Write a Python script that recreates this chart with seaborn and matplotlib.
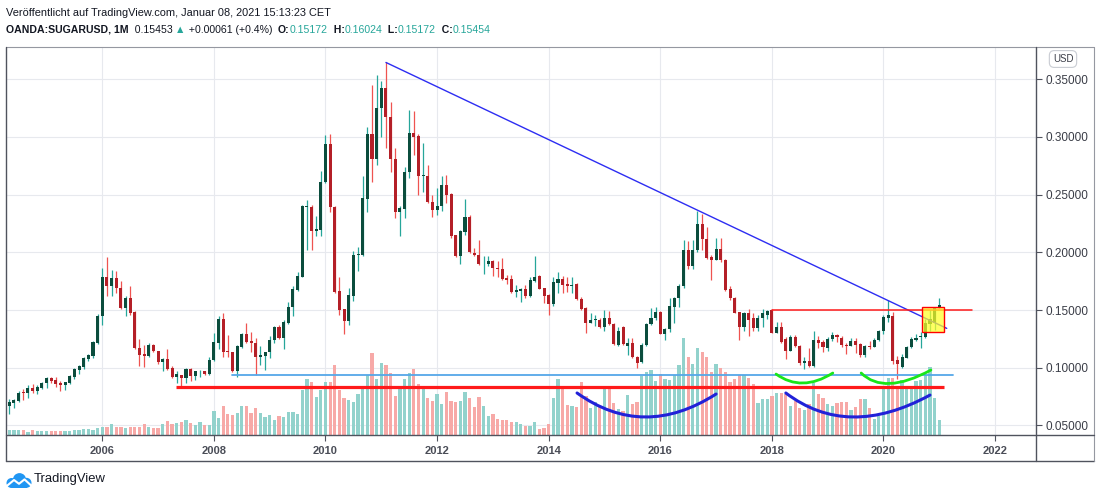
import numpy as np
import pandas as pd
import matplotlib
matplotlib.use("Agg")
import matplotlib.pyplot as plt
import seaborn as sns
from matplotlib.path import Path
from matplotlib.patches import PathPatch, Rectangle, Circle
from matplotlib.lines import Line2D

# ---------------- data (monthly OANDA:SUGARUSD, values in US cents) ----------------
months = pd.date_range("2004-05-01", "2021-01-01", freq="MS")

open_c = [
    6.70, 6.93, 7.10, 7.90, 7.84, 8.22, 7.99, 8.28,
    8.71, 9.11, 8.91, 8.71, 8.51, 8.71, 9.22, 9.80, 10.05, 10.72, 11.00, 12.13,
    14.45, 17.87, 17.04, 17.79, 16.90, 15.17, 16.03, 14.80, 11.72, 11.15, 11.01, 12.01,
    11.49, 10.49, 10.72, 10.00, 9.20, 9.35, 9.12, 9.93, 9.26, 9.70, 9.70, 9.43,
    10.65, 12.16, 14.22, 11.46, 11.32, 9.72, 11.81, 12.91, 12.33, 12.16, 10.94, 11.00,
    11.32, 12.39, 13.49, 12.54, 13.90, 15.23, 16.74, 17.90, 23.93, 23.93, 21.81, 21.96,
    26.10, 29.35, 23.93, 16.67, 15.10, 14.08, 16.18, 19.79, 19.79, 24.63, 30.26, 28.09,
    32.48, 34.21, 31.76, 28.09, 23.48, 23.77, 26.94, 30.32, 30.09, 26.57, 26.65, 24.40,
    23.68, 23.97, 25.85, 25.04, 21.46, 19.64, 21.75, 23.10, 19.93, 19.79, 18.98, 18.98,
    19.21, 18.63, 18.58, 17.77, 17.67, 16.58, 16.67, 16.81, 16.21, 17.53, 17.93, 16.87,
    16.29, 15.49, 17.36, 17.67, 17.24, 17.10, 17.24, 15.92, 15.20, 13.91, 14.14, 14.14,
    13.55, 14.28, 13.76, 12.00, 13.55, 11.88, 12.10, 10.97, 10.52, 12.00, 13.76, 14.30,
    14.85, 12.96, 13.39, 15.29, 16.00, 17.07, 20.17, 18.79, 20.17, 22.41, 21.18, 19.60,
    19.37, 20.32, 19.37, 16.78, 16.06, 14.80, 13.56, 14.71, 14.28, 13.42, 14.28, 14.57,
    15.00, 13.05, 13.56, 12.47, 11.49, 12.70, 11.90, 10.45, 10.58, 10.17, 12.40, 12.25,
    11.68, 12.46, 12.83, 12.60, 12.00, 11.91, 12.34, 12.06, 11.06, 11.91, 11.77, 12.43,
    13.14, 14.29, 14.49, 10.71, 10.09, 10.86, 11.80, 12.43, 12.66, 12.66, 13.80, 13.86,
    15.172,
]
high_c = [
    7.33, 7.33, 7.99, 8.13, 8.51, 8.56, 8.51, 8.76,
    9.20, 9.20, 9.20, 8.85, 8.76, 9.40, 10.00, 10.20, 10.95, 11.21, 12.33, 14.68,
    18.68, 19.63, 18.48, 18.39, 17.53, 16.18, 17.04, 14.89, 12.53, 12.00, 12.16, 12.07,
    11.49, 10.86, 11.58, 10.14, 9.69, 9.35, 10.01, 10.01, 9.72, 9.84, 9.72, 10.94,
    12.97, 14.48, 14.71, 12.83, 11.38, 11.96, 12.97, 13.90, 13.12, 12.54, 11.87, 11.38,
    12.74, 13.61, 13.70, 14.13, 15.72, 17.12, 18.28, 24.13, 24.51, 24.13, 23.12, 27.03,
    30.13, 30.22, 23.99, 17.83, 15.10, 16.90, 20.08, 20.45, 26.57, 30.89, 34.50, 35.36,
    34.84, 36.52, 33.06, 29.02, 23.97, 27.43, 32.33, 32.25, 30.23, 29.45, 27.58, 24.98,
    25.56, 26.57, 26.71, 25.12, 21.52, 21.95, 24.63, 23.25, 20.36, 21.09, 19.64, 19.64,
    19.36, 19.27, 19.50, 18.06, 18.02, 17.21, 16.95, 17.16, 17.87, 19.66, 18.02, 16.95,
    16.35, 17.82, 18.30, 17.96, 17.82, 17.82, 17.30, 16.15, 15.29, 14.71, 14.57, 14.28,
    15.00, 14.90, 13.85, 13.55, 13.64, 12.55, 12.55, 11.00, 12.10, 13.85, 15.15, 15.23,
    14.91, 13.48, 16.00, 16.15, 17.24, 21.03, 20.95, 21.09, 23.62, 23.33, 22.18, 19.74,
    21.26, 21.26, 19.45, 17.07, 16.15, 14.86, 14.86, 15.06, 14.71, 14.57, 15.06, 15.00,
    15.06, 14.00, 14.00, 12.70, 12.84, 12.84, 11.98, 10.95, 11.68, 13.20, 12.75, 12.40,
    12.63, 13.12, 12.90, 12.75, 12.10, 12.60, 12.60, 12.10, 12.00, 12.30, 12.60, 13.30,
    14.60, 15.86, 14.86, 11.00, 11.20, 11.90, 12.70, 12.90, 13.10, 14.20, 15.00, 15.30,
    16.024,
]
low_c = [
    6.03, 6.55, 7.04, 7.18, 7.41, 7.84, 7.70, 8.13,
    8.28, 8.71, 8.33, 7.99, 8.07, 8.56, 9.05, 9.42, 9.91, 10.60, 10.86, 12.07,
    13.74, 16.18, 16.18, 16.47, 15.09, 14.45, 14.60, 11.58, 10.14, 10.06, 10.92, 11.35,
    10.29, 9.71, 9.80, 9.11, 8.65, 8.33, 8.71, 8.86, 8.97, 9.20, 9.35, 9.35,
    10.59, 11.58, 10.94, 10.94, 9.64, 9.20, 11.75, 12.10, 11.38, 9.35, 10.22, 9.84,
    10.88, 12.16, 12.45, 11.58, 13.78, 14.51, 16.68, 17.84, 20.16, 20.22, 21.38, 21.43,
    26.01, 23.49, 16.45, 14.60, 12.92, 13.73, 15.81, 18.35, 19.64, 23.48, 26.08, 27.58,
    30.03, 29.08, 26.94, 22.96, 21.37, 22.96, 26.42, 28.44, 24.98, 25.21, 24.26, 23.02,
    23.25, 23.54, 24.26, 21.23, 19.59, 18.98, 21.52, 19.93, 19.64, 18.87, 18.14, 18.78,
    17.91, 17.83, 17.62, 17.25, 16.44, 16.15, 15.72, 16.01, 16.15, 17.44, 16.78, 15.57,
    14.57, 15.34, 16.49, 16.49, 16.58, 16.49, 15.86, 15.00, 13.05, 13.85, 13.62, 13.48,
    13.18, 13.71, 11.97, 11.88, 11.97, 11.10, 10.81, 10.00, 10.40, 11.90, 13.70, 14.16,
    12.90, 12.41, 13.10, 13.90, 15.29, 16.95, 18.59, 18.53, 20.03, 20.17, 19.45, 17.59,
    19.31, 19.17, 16.67, 15.86, 14.71, 12.41, 13.22, 12.76, 13.22, 13.22, 13.56, 14.23,
    12.99, 12.99, 12.13, 10.75, 11.41, 11.78, 10.26, 9.86, 10.10, 10.09, 11.68, 11.33,
    11.48, 12.30, 12.20, 11.80, 11.23, 11.90, 11.30, 10.90, 10.94, 11.60, 11.77, 12.30,
    12.90, 14.00, 10.29, 9.00, 10.00, 10.80, 11.70, 12.30, 11.71, 12.60, 13.20, 13.30,
    15.172,
]
close_c = [
    7.04, 7.21, 7.84, 7.79, 8.22, 7.99, 8.33, 8.71,
    9.11, 8.85, 8.56, 8.53, 8.74, 9.28, 9.86, 10.11, 10.80, 11.09, 12.21, 14.51,
    17.87, 17.04, 17.79, 16.90, 15.17, 16.03, 14.74, 11.72, 11.06, 11.01, 12.01, 11.44,
    10.49, 10.72, 9.86, 9.22, 9.43, 9.12, 9.93, 9.26, 9.70, 9.72, 9.43, 10.65,
    12.25, 14.22, 11.38, 11.32, 9.72, 11.87, 12.91, 12.25, 12.10, 10.94, 11.09, 11.32,
    12.39, 13.49, 12.54, 13.99, 15.29, 16.83, 17.99, 23.99, 23.99, 21.81, 22.04, 26.10,
    29.35, 23.93, 16.59, 15.03, 14.08, 16.27, 19.79, 19.88, 24.69, 30.26, 28.09, 32.48,
    34.21, 31.76, 28.09, 23.48, 23.83, 27.00, 30.32, 30.03, 26.57, 26.71, 24.35, 23.68,
    24.03, 25.85, 24.98, 21.37, 19.64, 21.81, 23.10, 20.07, 19.79, 18.98, 18.98, 19.21,
    18.63, 18.55, 17.71, 17.62, 16.58, 16.72, 16.81, 16.21, 17.59, 17.87, 16.81, 16.24,
    15.49, 17.44, 17.67, 17.16, 17.07, 17.20, 15.92, 15.06, 13.91, 14.14, 14.14, 13.56,
    14.28, 13.79, 12.03, 13.18, 12.03, 12.17, 10.97, 10.40, 12.00, 13.76, 14.30, 14.85,
    12.96, 13.39, 15.34, 16.00, 17.07, 20.17, 18.79, 20.17, 22.41, 21.12, 19.54, 19.37,
    20.32, 19.31, 16.72, 16.00, 14.77, 13.56, 14.77, 14.14, 13.42, 14.28, 14.71, 14.94,
    13.05, 13.56, 12.27, 11.49, 12.70, 11.84, 10.45, 10.58, 10.17, 12.40, 12.17, 11.77,
    12.46, 12.83, 12.63, 11.95, 11.86, 12.34, 12.00, 11.06, 11.91, 11.77, 12.43, 13.14,
    14.43, 14.57, 10.57, 10.29, 10.94, 11.80, 12.49, 12.57, 12.77, 13.91, 14.20, 15.14,
    15.454,
]
volume = [
    5, 5, 5, 4.7, 3.5, 5, 4, 4,
    4, 4, 4, 4, 4, 4, 5, 5, 5.7, 6.3, 5, 7.3,
    8.3, 8.3, 11.3, 8.3, 8.3, 7.3, 8.3, 8.3, 8.3, 10.7, 8.3, 7.3,
    7.3, 11.3, 14, 10.7, 12.3, 13, 15, 12, 10, 13, 10, 10,
    24, 17, 29, 21, 20, 22, 29, 29, 22, 27, 22, 18,
    20, 15, 19, 18, 23, 23, 21, 45, 56, 53, 38, 45,
    53, 53, 70, 45, 37, 35, 33, 41, 46, 60, 82, 56,
    72, 70, 62, 39, 47, 56, 62, 66, 51, 48, 37, 34,
    41, 31, 43, 34, 33, 34, 43, 37, 28, 38, 29, 19,
    21, 16, 15, 15, 13, 13, 11, 9, 9, 13, 6.5, 7.5,
    11, 37, 56, 46, 30, 29, 28, 53, 39, 27, 33, 29,
    47, 46, 32, 26, 24, 40, 31, 33, 59, 63, 65, 54,
    61, 56, 55, 60, 70, 97, 78, 71, 87, 83, 78, 63,
    71, 67, 63, 53, 56, 60, 60, 57, 51, 32, 36, 36,
    39, 42, 42, 41, 29, 34, 27, 25, 31, 52, 41, 37,
    31, 29, 32, 33, 33, 25, 28, 36, 36, 27, 16, 19,
    48, 57, 57, 47, 55, 48, 47, 54, 55, 60, 68, 37,
    15,
]

year_ticks = [2006, 2008, 2010, 2012, 2014, 2016, 2018, 2020, 2022]
price_ticks = [0.05, 0.10, 0.15, 0.20, 0.25, 0.30, 0.35]

# drawings (x = months since Jan 2006, y = USD)
trend_x = [61.0, 181.6]
trend_y = [0.3645, 0.1341]
support_level = (15.9, 181.0, 0.0835)     # thick red
blue_level = (28.0, 182.9, 0.0934)        # light blue
resist_level = (144.1, 187.0, 0.1500)     # thin red
blue_arcs = [[(102.1, 0.0781), (116.7, 0.0573), (132.0, 0.0772)],
             [(147.0, 0.0781), (161.4, 0.0573), (178.0, 0.0763)]]
green_arcs = [[(144.9, 0.0945), (150.7, 0.0867), (157.1, 0.0954)],
              [(163.2, 0.0954), (169.4, 0.0863), (178.2, 0.0980)]]
box = (176.2, 181.1, 0.1307, 0.1529)

# ---------------- style ----------------
sns.set_theme(style="white")
FONT = ["Liberation Sans", "DejaVu Sans"]
plt.rcParams["font.family"] = FONT

UP_BODY, UP_WICK = "#0b4d3d", "#26a69a"
DN_BODY, DN_WICK = "#b41f27", "#ef5350"
VOL_UP, VOL_DN = "#92d2cc", "#f7a9a7"
TEAL = "#26a69a"
DARK = "#131722"
FRAME = "#50535e"

W, H = 1100, 498
fig = plt.figure(figsize=(W / 100, H / 100), dpi=100)
fig.patch.set_facecolor("white")

L, R, T, B = 6, 1036, 47, 435
ax = fig.add_axes([L / W, 1 - B / H, (R - L) / W, (B - T) / H])
ax.set_facecolor("white")

df = pd.DataFrame({
    "date": months,
    "open": np.array(open_c) / 100,
    "high": np.array(high_c) / 100,
    "low": np.array(low_c) / 100,
    "close": np.array(close_c) / 100,
    "volume": volume,
})
df["m"] = (df["date"].dt.year - 2006) * 12 + df["date"].dt.month - 1
df["up"] = df["close"] >= df["open"]

# volume pane (bottom quarter, behind the candles)
vax = ax.inset_axes([0, 0, 1, 0.25], sharex=ax, zorder=1)
vax.patch.set_alpha(0)
vax.bar(df["m"], df["volume"], width=0.7,
        color=np.where(df["up"], VOL_UP, VOL_DN), linewidth=0)
vax.set_ylim(0, df["volume"].max())
vax.axis("off")

# candles
for up, bc, wc in [(True, UP_BODY, UP_WICK), (False, DN_BODY, DN_WICK)]:
    d = df[df["up"] == up]
    ax.vlines(d["m"], d["low"], d["high"], colors=wc, lw=0.9, zorder=3)
    bottom = np.minimum(d["open"], d["close"])
    height = np.maximum((d["close"] - d["open"]).abs(), 0.0004)
    ax.bar(d["m"], height, bottom=bottom, width=0.66, color=bc, linewidth=0, zorder=4)

# drawings
sns.lineplot(x=trend_x, y=trend_y, ax=ax, color="#2d2df2", lw=1.0, zorder=6, legend=False)
x0, x1, y = support_level
ax.plot([x0, x1], [y, y], color="#ff1a1a", lw=2.3, zorder=6, solid_capstyle="butt")
x0, x1, y = blue_level
ax.plot([x0, x1], [y, y], color="#55a7e8", lw=1.3, zorder=6)
x0, x1, y = resist_level
ax.plot([x0, x1], [y, y], color="#ff1a1a", lw=1.1, zorder=6)


def arc(p0, pb, p2, color, lw):
    c = (2 * pb[0] - (p0[0] + p2[0]) / 2, 2 * pb[1] - (p0[1] + p2[1]) / 2)
    path = Path([p0, c, p2], [Path.MOVETO, Path.CURVE3, Path.CURVE3])
    ax.add_patch(PathPatch(path, fill=False, ec=color, lw=lw, zorder=7, capstyle="round"))


for a in blue_arcs:
    arc(*a, color="#2121d8", lw=2.2)
for a in green_arcs:
    arc(*a, color="#19e619", lw=2.0)

bx0, bx1, by0, by1 = box
ax.add_patch(Rectangle((bx0, by0), bx1 - bx0, by1 - by0, fc=(1, 1, 0.15, 0.72),
                       ec="#ff0000", lw=1.0, zorder=8))

# axes, grid, ticks
ax.set_xlim(-20.71, 200.8)
ax.set_ylim(0.0417, 0.3779)
ax.set_xticks([(y - 2006) * 12 for y in year_ticks])
ax.set_xticklabels([str(y) for y in year_ticks], fontweight="bold", color="#4a4d57", fontsize=8)
ax.set_yticks(price_ticks)
ax.set_yticklabels([f"{v:.5f}" for v in price_ticks], color="#3a3d47", fontsize=8.5)
ax.yaxis.tick_right()
ax.grid(True, color="#e7e9ee", lw=0.8)
ax.set_axisbelow(True)
for s in ax.spines.values():
    s.set_visible(False)
ax.tick_params(axis="y", right=True, left=False, length=4, width=0.8, color=FRAME, pad=3)
ax.tick_params(axis="x", bottom=True, length=4, width=0.8, color=FRAME, pad=4)
ax.set_xlabel("")
ax.set_ylabel("")


def fline(xa, ya, xb, yb, color=FRAME, lw=1.0):
    fig.add_artist(Line2D([xa / W, xb / W], [1 - ya / H, 1 - yb / H], color=color, lw=lw,
                          transform=fig.transFigure))


fline(6, 47, 1094, 47, color="#9598a1", lw=0.8)
fline(6, 461, 1094, 461)
fline(6, 47, 6, 461)
fline(1094, 47, 1094, 461, color="#9598a1", lw=0.8)
fline(1036, 47, 1036, 461)
fline(6, 435, 1094, 435)

# USD badge
fig.text(1063 / W, 1 - 59 / H, "USD", ha="center", va="center", fontsize=7, color="#3a3d47",
         bbox=dict(boxstyle="round,pad=0.35,rounding_size=0.5", fc="white", ec="#c9ccd3", lw=0.8))

# header
fig.text(6 / W, 1 - 13 / H, "Veröffentlicht auf TradingView.com, Januar 08, 2021 15:13:23 CET",
         ha="left", va="center", fontsize=7.9, color=DARK)

renderer = fig.canvas.get_renderer()
segments = [
    ("OANDA:SUGARUSD, 1M", "bold", DARK),
    ("  0.15453 ", "normal", DARK),
    ("▲", "normal", TEAL),
    (" +0.00061 (+0.4%)  ", "normal", DARK),
    ("O:", "bold", DARK), ("0.15172", "normal", TEAL),
    ("  H:", "bold", DARK), ("0.16024", "normal", TEAL),
    ("  L:", "bold", DARK), ("0.15172", "normal", TEAL),
    ("  C:", "bold", DARK), ("0.15454", "normal", TEAL),
]
xpos = 6
for txt, wt, col in segments:
    t = fig.text(xpos / W, 1 - 30 / H, txt, ha="left", va="center", fontsize=7.6,
                 fontweight=wt, color=col, family=FONT)
    bb = t.get_window_extent(renderer)
    xpos = bb.x1

# footer logo
lax = fig.add_axes([6 / W, 1 - 488 / H, 26 / W, 15 / H])
lax.set_xlim(0, 26)
lax.set_ylim(0, 15)
lax.axis("off")
LOGO = "#2196f3"
for cx, cy, r in [(5.5, 5.0, 5.0), (13.5, 8.3, 6.6), (20.5, 5.2, 5.0)]:
    lax.add_patch(Circle((cx, cy), r, fc=LOGO, ec="none"))
lax.add_patch(Rectangle((5.5, 0.2), 15, 5.5, fc=LOGO, ec="none"))
lax.plot([0.5, 8.0, 13.0, 18.5, 25.5], [1.8, 8.0, 4.2, 8.6, 2.2], color="white", lw=1.5,
         solid_joinstyle="round")
fig.text(34 / W, 1 - 479 / H, "TradingView", ha="left", va="center", fontsize=9.4, color=DARK)

fig.savefig("out.png", dpi=100, facecolor="white")
